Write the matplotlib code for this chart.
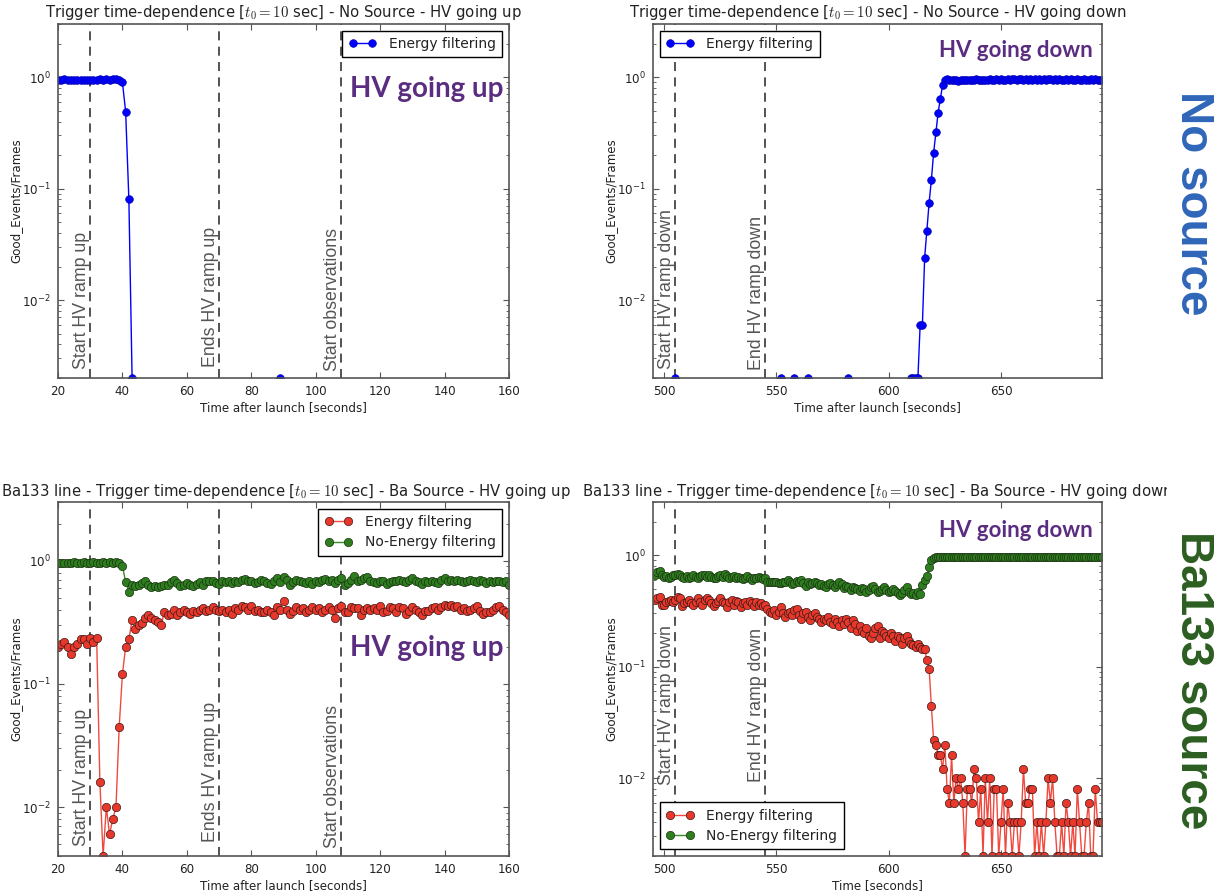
import numpy as np
import matplotlib
matplotlib.use("Agg")
import matplotlib.pyplot as plt
from matplotlib.transforms import Bbox, TransformedBbox, blended_transform_factory

plt.rcParams["font.family"] = ["DejaVu Sans"]
plt.rcParams["mathtext.fontset"] = "cm"

# ---------------------------------------------------------------- data
# No source, HV going up (1 s bins from t=20 s); 0 = no good event in the bin
nosrc_up_start = 20
nosrc_up_rate = [
    0.95, 0.95, 0.96, 0.95, 0.95, 0.94, 0.95, 0.95, 0.95, 0.95,
    0.95, 0.95, 0.95, 0.96, 0.95, 0.96, 0.95, 0.96, 0.96, 0.95,
    0.90, 0.49, 0.08, 0.002, 0, 0, 0, 0, 0, 0,
    0, 0, 0, 0, 0, 0, 0, 0, 0, 0,
    0, 0, 0, 0, 0, 0, 0, 0, 0, 0,
    0, 0, 0, 0, 0, 0, 0, 0, 0, 0,
    0, 0, 0, 0, 0, 0, 0, 0, 0, 0.002,
    0, 0, 0, 0, 0, 0, 0, 0, 0, 0,
    0, 0, 0, 0, 0, 0, 0, 0, 0, 0,
    0, 0, 0, 0, 0, 0, 0, 0, 0, 0,
    0, 0, 0, 0, 0, 0, 0, 0, 0, 0,
    0, 0, 0, 0, 0, 0, 0, 0, 0, 0,
    0, 0, 0, 0, 0, 0, 0, 0, 0, 0,
    0, 0, 0, 0, 0, 0, 0, 0, 0, 0,
    0,
]

# No source, HV going down (1 s bins from t=496 s)
nosrc_down_start = 496
nosrc_down_rate = [
    0, 0, 0, 0, 0, 0, 0, 0, 0, 0.002,
    0, 0, 0, 0, 0, 0, 0, 0, 0, 0,
    0, 0, 0, 0, 0, 0, 0, 0, 0, 0,
    0, 0, 0, 0, 0, 0, 0, 0, 0, 0,
    0, 0, 0, 0, 0, 0, 0, 0, 0, 0,
    0, 0, 0, 0, 0, 0, 0.002, 0, 0, 0,
    0, 0, 0.002, 0, 0, 0, 0, 0, 0.002, 0,
    0, 0, 0, 0, 0, 0, 0, 0, 0, 0,
    0, 0, 0, 0, 0, 0, 0.002, 0, 0, 0,
    0, 0, 0, 0, 0, 0, 0, 0, 0, 0,
    0, 0, 0, 0, 0, 0, 0, 0, 0, 0,
    0, 0, 0, 0, 0.002, 0.002, 0.002, 0.002, 0.006, 0.006,
    0.024, 0.042, 0.075, 0.12, 0.21, 0.32, 0.48, 0.64, 0.85, 0.95,
    0.96, 0.95, 0.94, 0.95, 0.95, 0.93, 0.95, 0.94, 0.95, 0.95,
    0.94, 0.95, 0.95, 0.96, 0.95, 0.95, 0.94, 0.95, 0.95, 0.96,
    0.95, 0.95, 0.96, 0.95, 0.96, 0.95, 0.95, 0.96, 0.95, 0.96,
    0.96, 0.95, 0.96, 0.96, 0.95, 0.96, 0.95, 0.96, 0.94, 0.96,
    0.95, 0.96, 0.95, 0.96, 0.95, 0.96, 0.96, 0.95, 0.96, 0.95,
    0.96, 0.95, 0.95, 0.96, 0.95, 0.96, 0.95, 0.95, 0.96, 0.95,
    0.95, 0.96, 0.95, 0.95, 0.96, 0.95, 0.96, 0.95, 0.95, 0.95,
]

# Ba source, HV going up (1 s bins from t=20 s)
ba_up_start = 20
ba_up_energy = [
    0.20, 0.21, 0.22, 0.20, 0.175, 0.20, 0.21, 0.23, 0.23, 0.21,
    0.235, 0.22, 0.235, 0.016, 0.004, 0.010, 0.006, 0.008, 0.010, 0.045,
    0.12, 0.20, 0.23, 0.33, 0.28, 0.30, 0.31, 0.34, 0.36, 0.34,
    0.33, 0.32, 0.30, 0.38, 0.36, 0.37, 0.40, 0.36, 0.38, 0.40,
    0.38, 0.37, 0.39, 0.38, 0.40, 0.41, 0.39, 0.40, 0.42, 0.40,
    0.39, 0.40, 0.38, 0.40, 0.37, 0.41, 0.40, 0.43, 0.42, 0.40,
    0.43, 0.39, 0.40, 0.38, 0.38, 0.40, 0.38, 0.36, 0.42, 0.40,
    0.47, 0.40, 0.37, 0.39, 0.42, 0.40, 0.41, 0.38, 0.40, 0.42,
    0.40, 0.41, 0.38, 0.40, 0.42, 0.40, 0.34, 0.41, 0.43, 0.38,
    0.38, 0.42, 0.41, 0.41, 0.36, 0.40, 0.41, 0.40, 0.41, 0.40,
    0.43, 0.38, 0.39, 0.42, 0.41, 0.38, 0.42, 0.41, 0.37, 0.39,
    0.42, 0.40, 0.38, 0.36, 0.39, 0.39, 0.41, 0.42, 0.40, 0.42,
    0.44, 0.43, 0.44, 0.42, 0.43, 0.40, 0.41, 0.39, 0.40, 0.41,
    0.43, 0.39, 0.37, 0.38, 0.38, 0.40, 0.42, 0.43, 0.40, 0.38,
    0.36,
]
ba_up_noenergy = [
    0.96, 0.96, 0.95, 0.96, 0.95, 0.97, 0.96, 0.96, 0.97, 0.96,
    0.96, 0.97, 0.96, 0.96, 0.97, 0.96, 0.97, 0.96, 0.97, 0.96,
    0.91, 0.67, 0.56, 0.64, 0.62, 0.63, 0.66, 0.68, 0.64, 0.61,
    0.62, 0.61, 0.62, 0.64, 0.63, 0.67, 0.70, 0.66, 0.62, 0.64,
    0.66, 0.63, 0.62, 0.65, 0.67, 0.64, 0.68, 0.69, 0.68, 0.66,
    0.65, 0.69, 0.67, 0.68, 0.66, 0.68, 0.67, 0.70, 0.71, 0.68,
    0.69, 0.66, 0.67, 0.70, 0.68, 0.66, 0.65, 0.69, 0.72, 0.67,
    0.74, 0.70, 0.64, 0.67, 0.70, 0.69, 0.67, 0.66, 0.68, 0.65,
    0.69, 0.67, 0.70, 0.71, 0.68, 0.70, 0.66, 0.70, 0.73, 0.64,
    0.66, 0.70, 0.75, 0.68, 0.70, 0.73, 0.74, 0.69, 0.67, 0.66,
    0.69, 0.68, 0.65, 0.67, 0.69, 0.68, 0.70, 0.69, 0.67, 0.70,
    0.72, 0.68, 0.67, 0.65, 0.68, 0.67, 0.69, 0.67, 0.66, 0.70,
    0.72, 0.69, 0.70, 0.68, 0.70, 0.69, 0.67, 0.68, 0.70, 0.68,
    0.67, 0.70, 0.68, 0.66, 0.68, 0.67, 0.69, 0.68, 0.67, 0.69,
    0.64,
]

# Ba source, HV going down (1 s bins from t=496 s)
ba_down_start = 496
ba_down_energy = [
    0.40, 0.41, 0.42, 0.36, 0.36, 0.38, 0.39, 0.40, 0.38, 0.40,
    0.42, 0.41, 0.35, 0.37, 0.38, 0.40, 0.37, 0.36, 0.38, 0.41,
    0.38, 0.36, 0.40, 0.41, 0.40, 0.37, 0.35, 0.37, 0.39, 0.41,
    0.38, 0.37, 0.34, 0.38, 0.40, 0.36, 0.39, 0.38, 0.34, 0.37,
    0.38, 0.36, 0.39, 0.37, 0.35, 0.38, 0.36, 0.37, 0.35, 0.36,
    0.33, 0.31, 0.30, 0.32, 0.29, 0.31, 0.34, 0.30, 0.28, 0.30,
    0.31, 0.29, 0.32, 0.33, 0.29, 0.27, 0.30, 0.31, 0.28, 0.26,
    0.29, 0.30, 0.28, 0.27, 0.25, 0.27, 0.26, 0.28, 0.25, 0.24,
    0.27, 0.25, 0.23, 0.26, 0.24, 0.27, 0.25, 0.22, 0.26, 0.24,
    0.21, 0.23, 0.21, 0.20, 0.22, 0.19, 0.18, 0.20, 0.22, 0.23,
    0.18, 0.21, 0.20, 0.19, 0.18, 0.20, 0.19, 0.17, 0.19, 0.18,
    0.16, 0.18, 0.19, 0.17, 0.16, 0.155, 0.15, 0.16, 0.15, 0.145,
    0.145, 0.114, 0.096, 0.044, 0.022, 0.020, 0.016, 0.016, 0.012, 0.020,
    0.008, 0.006, 0.016, 0.006, 0.010, 0.008, 0.010, 0.006, 0.002, 0.008,
    0.008, 0.006, 0.012, 0.010, 0.004, 0.008, 0.002, 0.010, 0.004, 0.010,
    0.002, 0.008, 0.008, 0.002, 0.004, 0.008, 0.002, 0.006, 0.004, 0.002,
    0.004, 0.004, 0.002, 0.004, 0.012, 0.006, 0.006, 0.008, 0.008, 0.002,
    0.004, 0.002, 0.004, 0.002, 0.004, 0.010, 0.006, 0.010, 0.004, 0.002,
    0.002, 0.004, 0.002, 0.006, 0.004, 0.002, 0.004, 0.002, 0.008, 0.004,
    0.002, 0.002, 0.004, 0.006, 0.002, 0.002, 0.008, 0.004, 0.004, 0.004,
]
ba_down_noenergy = [
    0.66, 0.70, 0.72, 0.66, 0.64, 0.65, 0.63, 0.64, 0.66, 0.66,
    0.68, 0.66, 0.64, 0.62, 0.65, 0.63, 0.64, 0.66, 0.64, 0.63,
    0.65, 0.66, 0.67, 0.64, 0.66, 0.64, 0.62, 0.63, 0.65, 0.66,
    0.64, 0.68, 0.65, 0.63, 0.64, 0.65, 0.63, 0.64, 0.62, 0.61,
    0.63, 0.65, 0.62, 0.60, 0.62, 0.63, 0.64, 0.62, 0.61, 0.62,
    0.58, 0.58, 0.57, 0.58, 0.57, 0.56, 0.56, 0.58, 0.57, 0.60,
    0.58, 0.55, 0.56, 0.59, 0.57, 0.60, 0.56, 0.53, 0.57, 0.55,
    0.56, 0.58, 0.56, 0.54, 0.55, 0.53, 0.52, 0.55, 0.56, 0.54,
    0.52, 0.55, 0.57, 0.55, 0.51, 0.53, 0.52, 0.49, 0.52, 0.51,
    0.50, 0.48, 0.51, 0.50, 0.47, 0.49, 0.52, 0.53, 0.50, 0.47,
    0.48, 0.50, 0.52, 0.49, 0.47, 0.48, 0.50, 0.48, 0.46, 0.44,
    0.46, 0.49, 0.52, 0.47, 0.45, 0.46, 0.44, 0.47, 0.45, 0.54,
    0.60, 0.65, 0.78, 0.90, 0.95, 0.96, 0.97, 0.96, 0.97, 0.97,
    0.96, 0.97, 0.96, 0.97, 0.97, 0.96, 0.97, 0.97, 0.96, 0.97,
    0.97, 0.96, 0.97, 0.97, 0.96, 0.97, 0.96, 0.97, 0.97, 0.96,
    0.97, 0.97, 0.96, 0.97, 0.96, 0.97, 0.97, 0.96, 0.97, 0.97,
    0.96, 0.97, 0.97, 0.96, 0.97, 0.97, 0.96, 0.97, 0.96, 0.97,
    0.97, 0.96, 0.97, 0.97, 0.96, 0.97, 0.97, 0.96, 0.97, 0.97,
    0.96, 0.97, 0.96, 0.97, 0.97, 0.96, 0.97, 0.97, 0.96, 0.97,
    0.97, 0.96, 0.97, 0.97, 0.96, 0.97, 0.96, 0.97, 0.97, 0.96,
]

up_markers = [30, 70, 108]
up_marker_labels = ["Start HV ramp up", "Ends HV ramp up", "Start observations"]
down_markers = [505, 545]
down_marker_labels = ["Start HV ramp down", "End HV ramp down"]

# ---------------------------------------------------------------- styling
W, H = 1221, 896
fig = plt.figure(figsize=(W / 100, H / 100), dpi=100)
fig.patch.set_facecolor("white")

FRAME = "#555555"
TXT = "#222222"
BLUE = "#0000ff"
RED = "#e8382b"
RED_LINE = "#f04a40"
GREEN = "#2e7d1f"
GREEN_LINE = "#3a8a2a"
PURPLE = "#5a2d80"


def add_ax(x0, y0, x1, y1):
    return fig.add_axes([x0 / W, 1 - y1 / H, (x1 - x0) / W, (y1 - y0) / H])


def series(start, values):
    t = start + np.arange(len(values))
    v = np.array(values, dtype=float)
    v[v <= 0] = np.nan
    return t, v


def style(ax, xlim, ylim, xticks, xlabel):
    ax.set_yscale("log")
    ax.set_xlim(*xlim)
    ax.set_ylim(*ylim)
    ax.set_xticks(xticks)
    for s in ax.spines.values():
        s.set_edgecolor(FRAME)
        s.set_linewidth(1.2)
    ax.tick_params(which="both", direction="in", top=True, right=True,
                   color=FRAME, labelcolor=TXT, labelsize=8.6)
    ax.tick_params(which="major", length=4.5, width=0.8, pad=5)
    ax.tick_params(which="minor", length=2.5, width=0.6)
    ax.set_xlabel(xlabel, fontsize=8.6, color=TXT, labelpad=2)
    ax.set_ylabel("Good_Events/Frames", fontsize=8.6, color=TXT, labelpad=0)


def markers(ax, xs, labels, yfrac):
    trans = blended_transform_factory(ax.transData, ax.transAxes)
    for x, lab, yf in zip(xs, labels, yfrac):
        ax.axvline(x, color="#444444", lw=1.3, ls=(0, (5, 3.5)), zorder=1)
        ax.text(x, yf, lab, transform=trans, rotation=90,
                ha="right", va="bottom", fontsize=12.8, color="#555555",
                family="Liberation Sans")


def legend(ax, loc):
    lg = ax.legend(loc=loc, fontsize=10, numpoints=2, fancybox=False,
                   framealpha=1, edgecolor="black", handlelength=2.0,
                   borderpad=0.45, labelspacing=0.45, handletextpad=0.9)
    lg.get_frame().set_linewidth(1.0)
    for t in lg.get_texts():
        t.set_color(TXT)


def title(ax, text, y_px, dx_px=0, clip=None):
    pos = ax.get_position()
    t = fig.text((pos.x0 + pos.x1) / 2 + dx_px / W, 1 - y_px / H, text, ha="center",
                 va="center", fontsize=10.7, color=TXT)
    if clip is not None:
        t.set_clip_box(TransformedBbox(Bbox([[0, 0], [clip / W, 1]]), fig.transFigure))
        t.set_clip_on(True)
    return t


blue_kw = dict(color=BLUE, lw=1.0, marker="o", ms=5.5, mfc=BLUE, mec="#0000b0", mew=0.5)
red_kw = dict(color=RED_LINE, lw=1.0, marker="o", ms=6.0, mfc=RED, mec="#3a1a18", mew=0.5)
green_kw = dict(color=GREEN_LINE, lw=1.0, marker="o", ms=6.0, mfc=GREEN, mec="#1c3314", mew=0.5)

# ---------------------------------------------------------------- top left
ax1 = add_ax(58, 24, 509, 378)
t, v = series(nosrc_up_start, nosrc_up_rate)
ax1.plot(t, v, label="Energy filtering", **blue_kw)
style(ax1, (20, 160), (0.002, 3), np.arange(20, 161, 20), "Time after launch [seconds]")
markers(ax1, up_markers, up_marker_labels, [0.025, 0.03, 0.02])
legend(ax1, "upper right")
title(ax1, r"Trigger time-dependence [$t_0=10$ sec] - No Source - HV going up", 13)
fig.text(503 / W, 1 - 97 / H, "HV going up", ha="right", va="baseline",
         fontsize=20, fontweight="bold", family="Lato", color=PURPLE)

# ---------------------------------------------------------------- top right
ax2 = add_ax(653, 24, 1102, 378)
t, v = series(nosrc_down_start, nosrc_down_rate)
ax2.plot(t, v, label="Energy filtering", **blue_kw)
style(ax2, (495, 695), (0.002, 3), [500, 550, 600, 650], "Time after launch [seconds]")
markers(ax2, down_markers, down_marker_labels, [0.025, 0.022])
legend(ax2, "upper left")
title(ax2, r"Trigger time-dependence [$t_0=10$ sec] - No Source - HV going down", 13, clip=1167)
fig.text(1093 / W, 1 - 57 / H, "HV going down", ha="right", va="baseline",
         fontsize=16, fontweight="bold", family="Lato", color=PURPLE)

# ---------------------------------------------------------------- bottom left
ax3 = add_ax(58, 502, 509, 856)
t, v = series(ba_up_start, ba_up_energy)
ax3.plot(t, v, label="Energy filtering", **red_kw)
t, v = series(ba_up_start, ba_up_noenergy)
ax3.plot(t, v, label="No-Energy filtering", **green_kw)
style(ax3, (20, 160), (0.004, 3), np.arange(20, 161, 20), "Time after launch [seconds]")
markers(ax3, up_markers, up_marker_labels, [0.028, 0.04, 0.023])
legend(ax3, "upper right")
title(ax3, r"Ba133 line - Trigger time-dependence [$t_0=10$ sec] - Ba Source - HV going up", 491, dx_px=3)
fig.text(503 / W, 1 - 656 / H, "HV going up", ha="right", va="baseline",
         fontsize=20, fontweight="bold", family="Lato", color=PURPLE)

# ---------------------------------------------------------------- bottom right
ax4 = add_ax(653, 502, 1102, 856)
t, v = series(ba_down_start, ba_down_energy)
ax4.plot(t, v, label="Energy filtering", **red_kw)
t, v = series(ba_down_start, ba_down_noenergy)
ax4.plot(t, v, label="No-Energy filtering", **green_kw)
style(ax4, (495, 695), (0.002, 3), [500, 550, 600, 650], "Time [seconds]")
markers(ax4, down_markers, down_marker_labels, [0.2, 0.21])
legend(ax4, "lower left")
title(ax4, r"Ba133 line - Trigger time-dependence [$t_0=10$ sec] - Ba Source - HV going down", 491, clip=1167)
fig.text(1093 / W, 1 - 537 / H, "HV going down", ha="right", va="baseline",
         fontsize=16, fontweight="bold", family="Lato", color=PURPLE)

# ---------------------------------------------------------------- row captions
fig.text(1193 / W, 1 - 203 / H, "No source", rotation=-90, ha="center", va="center",
         fontsize=33, fontweight="bold", family="Liberation Sans", color="#2f66b8")
fig.text(1193 / W, 1 - 680 / H, "Ba133 source", rotation=-90, ha="center", va="center",
         fontsize=33, fontweight="bold", family="Liberation Sans", color="#2b5e20")

fig.savefig("out.png", dpi=100, facecolor="white")
